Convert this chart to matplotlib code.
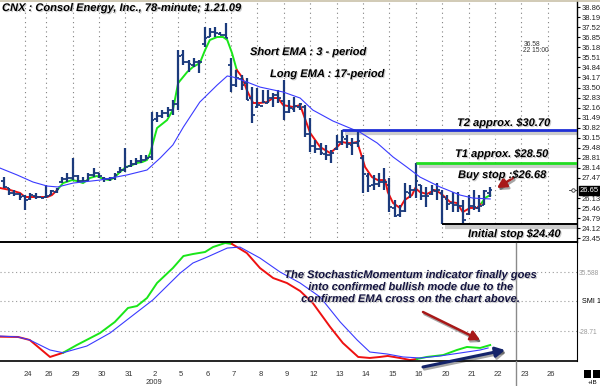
import matplotlib
matplotlib.use("Agg")
from matplotlib import pyplot as plt
from matplotlib import patheffects as pe
from matplotlib.lines import Line2D
from matplotlib.patches import Rectangle

# 78-minute OHLC bars for CNX, bar 0 = last bars of Dec 23, bar 92 = close of Jan 21
bar_open = [27.30, 26.80, 26.45, 26.40, 26.25, 26.05, 26.30, 26.20, 26.20, 26.35,
            26.55, 27.20, 27.40, 27.50, 27.60, 27.30, 27.30, 27.70, 27.80, 27.50,
            27.40, 27.45, 27.85, 28.00, 28.30, 28.40, 28.60, 28.70, 28.90, 31.40,
            31.60, 31.80, 32.00, 32.40, 35.70, 35.20, 35.00, 35.20, 36.40, 36.90,
            37.20, 37.10, 37.00, 35.00, 33.70, 34.10, 33.80, 32.80, 32.20, 32.30,
            32.50, 32.80, 33.00, 32.60, 31.90, 32.10, 32.20, 32.20, 30.40, 29.60,
            29.40, 29.10, 29.00, 29.40, 29.90, 30.10, 29.70, 29.80, 28.80, 27.60,
            27.00, 27.10, 27.20, 27.00, 25.50, 25.00, 25.30, 26.50, 26.70, 27.00,
            26.30, 26.40, 26.60, 26.50, 26.10, 25.80, 25.70, 25.60, 25.10, 25.60,
            25.50, 25.70, 26.50]
bar_high = [27.53, 26.80, 26.67, 26.47, 26.33, 26.47, 26.50, 26.20, 27.00, 26.67,
            26.80, 27.53, 27.80, 28.80, 27.67, 27.53, 27.80, 28.13, 27.80, 27.53,
            27.53, 27.80, 28.20, 29.47, 28.67, 28.80, 29.00, 29.00, 31.87, 31.87,
            32.00, 32.20, 32.67, 36.00, 36.00, 35.33, 35.47, 35.33, 37.53, 37.47,
            37.53, 37.20, 37.80, 35.47, 34.67, 34.33, 34.13, 33.53, 33.47, 33.33,
            33.33, 33.13, 33.33, 34.00, 32.67, 32.87, 32.47, 32.33, 31.47, 30.00,
            29.80, 29.67, 29.33, 30.33, 30.70, 30.33, 30.13, 30.53, 29.00, 27.80,
            27.67, 27.80, 28.13, 27.47, 26.00, 25.67, 27.13, 27.00, 28.50, 27.00,
            26.87, 27.00, 27.13, 26.67, 26.33, 26.53, 26.53, 26.00, 26.33, 26.67,
            26.33, 26.67, 26.87]
bar_low = [26.80, 26.33, 26.27, 26.00, 25.33, 26.00, 26.07, 26.13, 26.13, 26.33,
           26.47, 27.13, 27.20, 27.33, 27.20, 27.20, 27.27, 27.53, 27.47, 27.20,
           27.27, 27.33, 27.80, 27.87, 28.20, 28.33, 28.47, 28.67, 28.67, 31.20,
           31.47, 31.53, 31.67, 32.00, 35.00, 34.53, 34.87, 34.47, 36.20, 36.87,
           36.87, 37.00, 36.80, 33.20, 33.53, 33.33, 32.67, 31.13, 32.13, 32.47,
           32.47, 32.20, 32.47, 31.33, 31.80, 31.87, 32.00, 30.20, 29.20, 29.13,
           29.00, 28.67, 28.47, 29.33, 29.67, 29.47, 29.00, 29.53, 26.47, 26.53,
           26.67, 26.87, 26.67, 25.20, 24.87, 24.87, 25.20, 26.13, 26.13, 26.00,
           25.53, 26.33, 26.00, 24.40, 25.33, 25.20, 25.20, 24.47, 25.00, 25.33,
           25.20, 25.67, 26.20]
bar_close = [26.85, 26.50, 26.40, 26.20, 26.00, 26.35, 26.20, 26.15, 26.30, 26.60,
             26.75, 27.40, 27.50, 27.60, 27.30, 27.25, 27.70, 27.80, 27.60, 27.40,
             27.45, 27.70, 28.00, 28.20, 28.40, 28.60, 28.70, 28.80, 31.33, 31.60,
             31.80, 32.00, 32.40, 35.60, 35.20, 35.07, 35.20, 35.20, 36.80, 37.20,
             37.13, 37.00, 36.80, 33.67, 34.13, 33.67, 32.67, 31.67, 32.33, 32.53,
             32.80, 33.00, 32.80, 31.87, 32.13, 32.27, 32.40, 30.40, 29.60, 29.40,
             29.13, 29.00, 29.13, 29.87, 30.20, 29.73, 29.80, 29.93, 27.73, 26.93,
             27.07, 27.20, 27.20, 25.53, 24.93, 25.27, 26.53, 26.67, 27.27, 26.27,
             26.27, 26.67, 26.67, 26.20, 25.73, 25.67, 25.60, 24.67, 25.60, 25.53,
             25.60, 26.60, 26.65]

# trading days: label and index of the first bar of that day
day_labels = ["24", "26", "29", "30", "31", "2", "5", "6", "7", "8", "9",
              "12", "13", "14", "15", "16", "20", "21", "22", "23", "26"]
day_first_bar = [4, 8, 13, 18, 23, 28, 33, 38, 43, 48, 53,
                 58, 63, 68, 73, 78, 83, 88, 93, 98, 103]
year_label = "2009"

# short EMA (3), colour flips at the breaks
ema3_x = [-0.74, 1.16, 3.05, 4.0, 5.5, 8.2, 9.1, 10.1, 11.2, 12.9, 13.8, 15.0, 16.3, 17.6,
          18.8, 20.1, 21.0, 22.0, 23.1, 24.3, 25.2, 26.2, 27.1, 27.7, 29.0, 30.9, 32.0,
          33.0, 34.7, 35.8, 37.1, 38.1, 39.0, 40.4, 41.5, 42.3, 43.2, 44.1, 45.1, 46.0,
          47.2, 48.5, 49.8, 51.0, 51.9, 52.9, 54.8, 56.1, 58.0, 59.9, 61.8, 63.1, 64.0,
          65.0, 65.9, 66.9, 67.4, 68.4, 69.7, 70.8, 72.2, 72.7, 73.7, 75.0, 75.9, 77.3,
          77.9, 78.8, 80.1, 81.6, 82.6, 83.5, 84.5, 85.8, 86.9, 88.3, 89.6, 90.5, 91.1, 92.1]
ema3_p = [26.80, 26.67, 26.47, 26.20, 26.20, 26.20, 26.33, 26.67, 27.13, 27.33, 27.27, 27.13,
          27.47, 27.60, 27.40, 27.33, 27.53, 27.87, 28.20, 28.33, 28.47, 28.53, 28.67, 29.13,
          30.80, 31.33, 32.00, 33.80, 34.53, 34.87, 35.13, 36.00, 36.67, 36.87, 36.87, 36.67,
          35.80, 34.67, 34.20, 33.33, 32.47, 32.47, 32.53, 32.80, 32.80, 32.33, 32.20, 32.33,
          30.47, 29.53, 29.13, 29.53, 29.87, 29.80, 29.80, 29.87, 29.33, 28.20, 27.53, 27.33,
          27.33, 26.53, 25.80, 25.47, 26.00, 26.33, 26.80, 26.53, 26.40, 26.67, 26.47, 26.20,
          25.87, 25.80, 25.20, 25.47, 25.47, 25.80, 26.13, 26.33]
ema3_breaks = [10.1, 44.1, 90.5]

# long EMA (17)
ema17_x = [-0.74, 2.5, 5.5, 8.2, 10.2, 13.1, 18.2, 23.3, 27.1, 29.6, 32.0, 34.0, 37.1, 40.4,
           42.3, 43.4, 46.0, 48.5, 52.9, 56.1, 58.5, 62.3, 65.5, 67.4, 70.7, 73.7, 76.3,
           78.8, 82.6, 86.4, 88.8, 92.1]
ema17_p = [28.13, 27.67, 27.20, 26.93, 26.87, 27.13, 27.33, 27.67, 28.00, 28.80, 29.67,
           30.87, 32.53, 33.67, 34.27, 34.20, 33.87, 33.53, 33.20, 32.80, 32.00, 31.27,
           30.80, 30.53, 29.80, 28.87, 28.20, 27.53, 26.87, 26.33, 26.13, 26.07]

# Stochastic Momentum Index and its signal line
smi_x = [-0.74, 2.67, 4.9, 8.73, 11.2, 13.8, 18.2, 21.0, 23.5, 25.2, 27.1, 29.0, 32.0, 34.0,
         35.8, 38.1, 39.6, 41.9, 43.2, 46.0, 48.5, 51.0, 53.6, 56.1, 58.5, 61.8, 64.2, 67.1,
         69.3, 71.2, 72.7, 75.0, 76.9, 78.2, 80.1, 83.2, 85.8, 87.7, 90.2, 92.1]
smi_v = [-34.9, -35.2, -38.5, -57.0, -52.4, -44.0, -30.9, -18.9, -3.6, -1.5, 7.3, 23.6, 39.9,
         53.0, 55.2, 57.4, 62.8, 67.2, 66.1, 56.3, 39.9, 29.0, 23.6, 14.9, 1.8, -24.4, -41.8,
         -57.0, -58.1, -57.0, -55.9, -58.1, -60.3, -59.2, -57.0, -54.9, -49.4, -46.1, -47.2,
         -44.0]
smi_breaks = [11.2, 43.2, 78.2]
signal_x = [-0.74, 2.67, 4.9, 8.73, 11.2, 15.7, 20.1, 24.5, 28.2, 33.4, 35.8, 38.5, 42.3, 44.7,
            48.5, 52.3, 56.1, 59.9, 63.7, 66.9, 69.3, 72.6, 75.6, 78.8, 82.6, 86.4, 90.2, 91.7]
signal_v = [-34.2, -35.2, -38.5, -49.4, -52.4, -45.1, -30.9, -11.3, 5.1, 34.5, 45.4, 51.9,
            61.7, 62.8, 50.8, 35.6, 23.6, 8.3, -18.9, -38.5, -51.6, -53.8, -57.0, -58.1,
            -55.9, -52.7, -49.4, -47.2]

price_ticks = [38.86, 38.19, 37.52, 36.85, 36.18, 35.51, 34.84, 34.17, 33.50, 32.83, 32.16,
               31.49, 30.82, 30.15, 29.48, 28.81, 28.14, 27.47, 26.13, 25.46, 24.79, 24.12,
               23.45]
smi_ticks = [35.588, -28.71]
smi_tick_labels = ["35.588", "-28.71"]
smi_mid = 3.89
last_price = 26.65

# trade levels: (price, first bar)
t2_level, t2_bar = 30.70, 64
t1_level, t1_bar = 28.50, 78
stop_level, stop_bar = 24.40, 83

W, H = 600, 386
NAVY = "#1b3a7c"
GREEN = "#19e619"
RED = "#ee1111"
BLUE = "#3a3aff"


def fx(px):
    return px / W


def fy(py):
    return 1 - py / H


def two_colour_line(ax, xs, ys, breaks, first, second, lw):
    """ Draw a polyline whose colour flips at every break value. """
    colours = [first, second]
    idx = 0
    seg_x, seg_y = [xs[0]], [ys[0]]
    for x, y in zip(xs[1:], ys[1:]):
        seg_x.append(x)
        seg_y.append(y)
        if any(abs(x - b) < 1e-9 for b in breaks):
            ax.plot(seg_x, seg_y, color=colours[idx % 2], lw=lw, solid_joinstyle="round")
            idx += 1
            seg_x, seg_y = [x], [y]
    ax.plot(seg_x, seg_y, color=colours[idx % 2], lw=lw, solid_joinstyle="round")


plt.rcParams['font.family'] = ['Liberation Sans', 'DejaVu Sans']
fig = plt.figure(figsize=(W / 100, H / 100), dpi=100)
fig.patch.set_facecolor("white")

x_left, x_right = -0.74, 108.54
ax = fig.add_axes([0, fy(242), fx(577), (242 - 1) / H])
ax2 = fig.add_axes([0, fy(361), fx(577), (361 - 242) / H], sharex=ax)
ax.patch.set_alpha(0)
ax2.patch.set_alpha(0)

# ---- price panel ----
ax.set_xlim(x_left, x_right)
ax.set_ylim(23.20, 39.27)
for k in day_first_bar:
    ax.axvline(k, color="#808080", lw=0.8, ls=(0, (1, 3.2)), zorder=0)

xs = list(range(len(bar_close)))
ax.vlines(xs, bar_low, bar_high, color=NAVY, lw=1.6, zorder=3)
ax.hlines(bar_open, [x - 0.5 for x in xs], xs, color=NAVY, lw=1.3, zorder=3)
ax.hlines(bar_close, xs, [x + 0.5 for x in xs], color=NAVY, lw=1.3, zorder=3)

ax.plot(ema17_x, ema17_p, color=BLUE, lw=0.8, zorder=4)
two_colour_line(ax, ema3_x, ema3_p, ema3_breaks, RED, GREEN, 1.4)

for level, start, colour, lw in [(t2_level, t2_bar, "#1f2fd6", 2.0),
                                 (t1_level, t1_bar, "#22dd22", 2.0),
                                 (stop_level, stop_bar, "black", 1.4)]:
    ax.hlines(level - 0.22, start + 0.6, x_right, color="#cccccc", lw=3.0, zorder=2)
    ax.hlines(level, start, x_right, color=colour, lw=lw, zorder=5)

ax.yaxis.tick_right()
ax.set_yticks(price_ticks)
ax.set_yticklabels(["%.2f" % t for t in price_ticks])
ax.tick_params(axis="y", length=2, pad=1, labelsize=5.5, labelcolor="#222222")
ax.tick_params(axis="x", bottom=False, labelbottom=False)
for side in ["left", "top"]:
    ax.spines[side].set_visible(False)
ax.spines["bottom"].set_linewidth(1.2)
ax.spines["right"].set_linewidth(1.0)

# last price flag on the axis
ax.text(1.005, last_price, "%.2f" % last_price, transform=ax.get_yaxis_transform(),
        fontsize=5.5, color="white", va="center", ha="left",
        bbox=dict(boxstyle="square,pad=0.12", fc="black", ec="black"))
ax.plot([107.0, 108.5], [last_price, last_price], color="#333333", lw=0.6, clip_on=False)
ax.plot([107.7], [last_price], marker="o", ms=2.5, mfc="white", mec="#333333", mew=0.6,
        clip_on=False)

# ---- SMI panel ----
ax2.set_ylim(-61.4, 68.3)
for v in smi_ticks + [smi_mid]:
    ax2.axhline(v, color="#9a9a9a", lw=0.8, ls=(0, (1, 2.5)), zorder=0)
ax2.plot(signal_x, signal_v, color=BLUE, lw=0.8, zorder=3)
two_colour_line(ax2, smi_x, smi_v, smi_breaks, RED, GREEN, 1.4)
ax2.axvline(97.0, color="#8a8a8a", lw=1.0, zorder=1)

ax2.yaxis.tick_right()
ax2.set_yticks(smi_ticks)
ax2.set_yticklabels(smi_tick_labels)
ax2.tick_params(axis="y", length=0, pad=1.5, labelsize=4.8, labelcolor="#9a9a9a")
ax2.text(1.008, smi_mid, "SMI 1", transform=ax2.get_yaxis_transform(), fontsize=5.2,
         va="center", ha="left")
ax2.set_xticks([k + 0.6 for k in day_first_bar])
ax2.set_xticklabels(day_labels)
ax2.tick_params(axis="x", length=0, pad=7, labelsize=5.5, labelcolor="#333333")
ax2.spines["left"].set_visible(False)
for side in ["top", "bottom"]:
    ax2.spines[side].set_linewidth(1.2)
fig.text(fx(154), fy(383), year_label, fontsize=5.5, color="#333333", ha="center", va="center")

# ---- frame extras ----
fig.add_artist(Line2D([0, 1], [fy(0.5), fy(0.5)], color="#c9c1a9", lw=1.2))
fig.add_artist(Line2D([fx(516), fx(516)], [fy(361), 0], color="#8a8a8a", lw=1.0))
fig.add_artist(Rectangle((fx(584), fy(378)), 7 / W, 8 / H, fc="black", ec="none"))
fig.add_artist(Rectangle((fx(593), fy(378)), 7 / W, 8 / H, fc="black", ec="none"))
fig.text(fx(588), fy(383), "+IB", fontsize=4.5, va="center")
fig.text(fx(524), fy(44), "36.58", fontsize=4.8, color="#333333", va="center")
fig.text(fx(523), fy(50), "22 15:00", fontsize=4.8, color="#333333", va="center")

# ---- annotations ----
shadow = [pe.SimplePatchShadow(offset=(0.8, -0.8), shadow_rgbFace="#aaaaaa", alpha=0.6),
          pe.Normal()]
note = dict(fontsize=8, fontweight="bold", fontstyle="italic", path_effects=shadow)
fig.text(fx(2), fy(8), "CNX : Consol Energy, Inc., 78-minute; 1.21.09", va="center", **note)
fig.text(fx(250), fy(52), "Short EMA : 3 - period", va="center", **note)
fig.text(fx(270), fy(74), "Long EMA : 17-period", va="center", **note)
fig.text(fx(457), fy(123), "T2 approx. $30.70", va="center", **note)
fig.text(fx(455), fy(154), "T1 approx. $28.50", va="center", **note)
fig.text(fx(458), fy(175), "Buy stop :$26.68", va="center", **note)
fig.text(fx(468), fy(234), "Initial stop $24.40", va="center", **note)
fig.text(fx(411), fy(287),
         "The StochasticMomentum indicator finally goes\n"
         "into confirmed bullish mode due to the\n"
         "confirmed EMA cross on the chart above.",
         ha="center", va="center", linespacing=1.25, color="#141440", **note)

arrows = [((513, 178), (497, 188), "#a81818", 1.8),
          ((423, 312), (480, 340), "#a81818", 1.8),
          ((423, 367), (505, 350), "#14246a", 2.2)]
for (x0, y0), (x1, y1), colour, lw in arrows:
    ax2.annotate("", xy=(x1, H - y1), xycoords="figure pixels",
                 xytext=(x0, H - y0), textcoords="figure pixels",
                 arrowprops=dict(arrowstyle="-|>,head_length=0.55,head_width=0.3",
                                 color=colour, lw=lw, shrinkA=0, shrinkB=0,
                                 path_effects=[pe.SimpleLineShadow(offset=(1, -1.5), alpha=0.35),
                                               pe.Normal()]))

fig.savefig("out.png", dpi=100)
